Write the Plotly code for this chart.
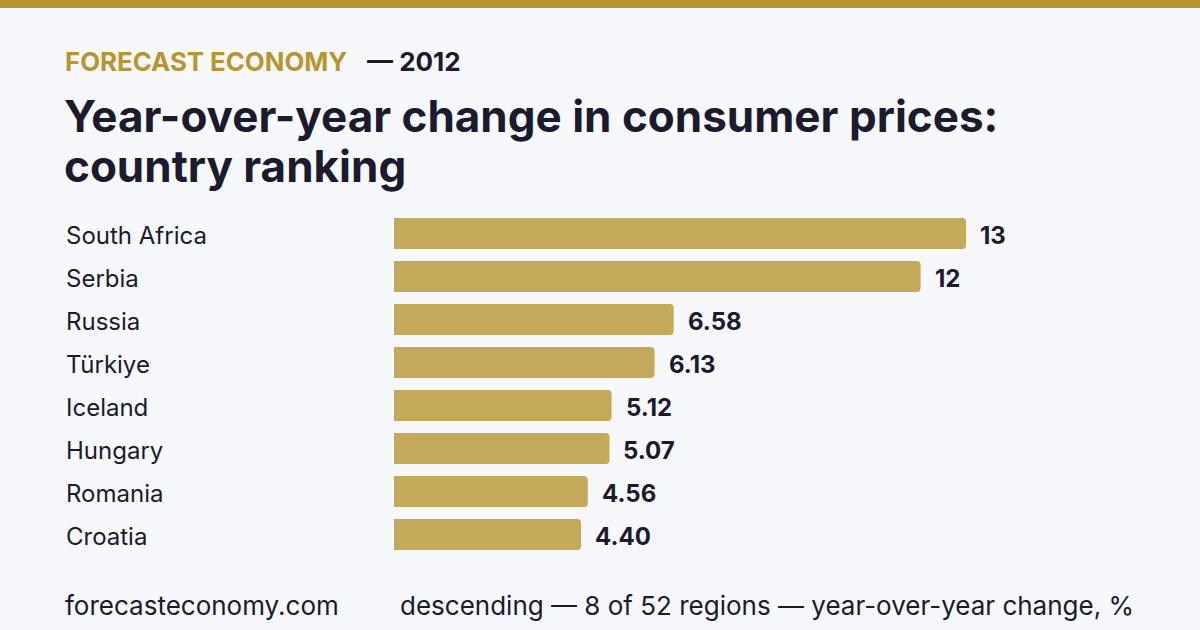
import plotly.graph_objects as go

# data
countries = ["South Africa", "Serbia", "Russia", "Türkiye", "Iceland", "Hungary", "Romania", "Croatia"]
values = [13.46, 12.39, 6.58, 6.13, 5.12, 5.07, 4.56, 4.40]
value_labels = [f"{v:.0f}" if v >= 10 else f"{v:.2f}" for v in values]

kicker = "FORECAST ECONOMY"
year_text = "— 2012"
title_lines = ["Year-over-year change in consumer prices:", "country ranking"]
source = "forecasteconomy.com"
note = "descending — 8 of 52 regions — year-over-year change, %"

W, H = 1200, 630
L, R, T, B = 394, 166, 212, 74
PW, PH = W - L - R, H - T - B

BG = "#f7f8fc"
GOLD = "#b8952f"
BAR = "#c4a95a"
INK = "#1b1a2e"
FONT = "Inter"


def px_x(px):
    return (px - L) / PW


def px_y(py):
    return (H - B - py) / PH


fig = go.Figure(
    go.Bar(
        x=values,
        y=countries,
        orientation="h",
        marker=dict(color=BAR, cornerradius=4, line=dict(width=0)),
        width=0.72,
        hoverinfo="skip",
    )
)

annotations = []
# country names, left aligned
for c in countries:
    annotations.append(dict(
        x=px_x(64), xref="paper", y=c, yref="y", text=c, showarrow=False,
        xanchor="left", yanchor="middle", yshift=-2,
        font=dict(family=FONT, size=24, color=INK),
    ))
# value labels
for c, v, t in zip(countries, values, value_labels):
    annotations.append(dict(
        x=v, xref="x", y=c, yref="y", text=t, showarrow=False,
        xanchor="left", yanchor="middle", xshift=12, yshift=-2,
        font=dict(family=FONT, size=24, color=INK, weight=700),
    ))

# header
annotations.append(dict(
    x=px_x(63), xref="paper", y=px_y(61), yref="paper", text=kicker,
    showarrow=False, xanchor="left", yanchor="middle",
    font=dict(family=FONT, size=25.8, color=GOLD, weight=700),
))
annotations.append(dict(
    x=px_x(365), xref="paper", y=px_y(61), yref="paper", text=year_text,
    showarrow=False, xanchor="left", yanchor="middle",
    font=dict(family=FONT, size=26, color=INK, weight=700),
))
for i, line in enumerate(title_lines):
    annotations.append(dict(
        x=px_x(62), xref="paper", y=px_y(116 + 50 * i), yref="paper", text=line,
        showarrow=False, xanchor="left", yanchor="middle",
        font=dict(family=FONT, size=44, color=INK, weight=700),
    ))

# footer
annotations.append(dict(
    x=px_x(63), xref="paper", y=px_y(605), yref="paper", text=source,
    showarrow=False, xanchor="left", yanchor="middle",
    font=dict(family=FONT, size=26, color=INK),
))
annotations.append(dict(
    x=px_x(398), xref="paper", y=px_y(605), yref="paper", text=note,
    showarrow=False, xanchor="left", yanchor="middle",
    font=dict(family=FONT, size=26, color=INK),
))

fig.update_layout(
    width=W,
    height=H,
    margin=dict(l=L, r=R, t=T, b=B),
    paper_bgcolor=BG,
    plot_bgcolor=BG,
    showlegend=False,
    xaxis=dict(range=[0, PW / 42.5], visible=False, fixedrange=True),
    yaxis=dict(autorange="reversed", visible=False, fixedrange=True,
               categoryorder="array", categoryarray=countries),
    annotations=annotations,
    shapes=[dict(
        type="rect", xref="paper", yref="paper",
        x0=px_x(0), x1=px_x(W), y0=px_y(0), y1=px_y(8),
        fillcolor=GOLD, line=dict(width=0), layer="above",
    )],
)

# drop the page's default body margin so the figure sits at (0, 0)
fig.write_html(
    "out.html",
    config={"displayModeBar": False},
    post_script="document.body.style.margin='0';document.body.style.background='" + BG + "';",
)
